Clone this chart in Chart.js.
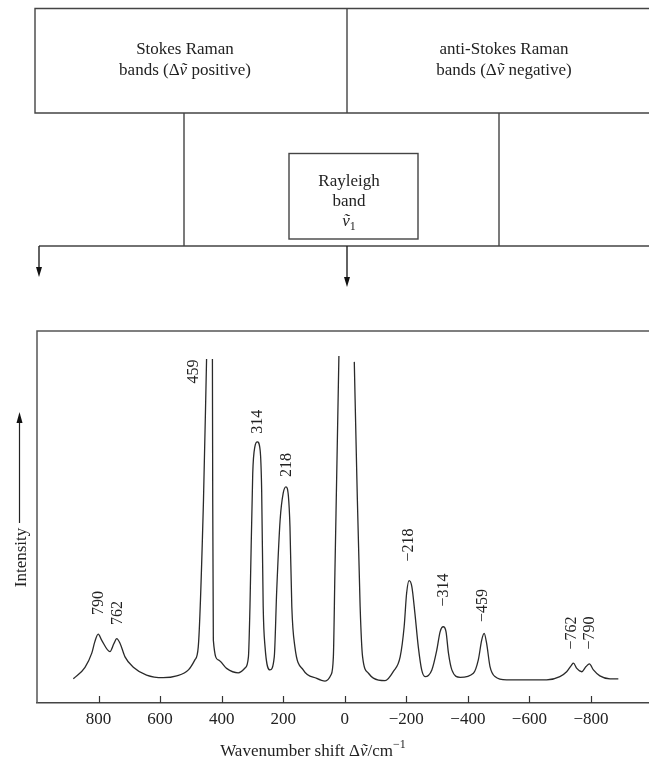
<!DOCTYPE html>
<html><head><meta charset="utf-8">
<script src="https://cdn.jsdelivr.net/npm/chart.js@4/dist/chart.umd.min.js"></script>
<style>html,body{margin:0;padding:0;background:#fff;overflow:hidden;} canvas{display:block;}</style>
</head><body>
<canvas id="c" width="660" height="760"></canvas>
<script>
// Raman shift (cm-1) and relative intensity (null = broken off-scale line)
const shiftValues = [882,844,822,812,801,790,763,750,741,730,714,687,644,590,546,508,487,476,459,449,440,430,429,427,411,384,346,324,313,308,299,292,284,275,270,265,259,243,229,221,210,200,191,183,178,172,162,135,91,64,45,37,32,24,19,-6,-31,-39,-50,-58,-77,-93,-131,-158,-180,-193,-201,-209,-218,-228,-239,-250,-261,-283,-299,-310,-320,-329,-337,-348,-375,-418,-434,-445,-453,-461,-472,-488,-526,-656,-699,-721,-737,-743,-754,-770,-784,-795,-808,-829,-862,-889];
const intensityValues = [6.5,9.6,13.4,16.5,18.5,16.9,13.8,16.0,17.3,16.0,12.4,9.6,7.5,6.8,7.3,8.9,11.6,15.1,54.6,92.5,null,92.5,54.6,16.9,11.6,9.3,8.1,9.4,12.4,25.9,61.7,68.9,70.2,68.0,57.3,25.9,15.1,8.9,12.4,30.4,49.2,56.4,58.1,55.5,47.4,25.9,15.1,8.9,6.6,5.9,7.5,12.4,34.9,70.7,93.3,null,91.7,61.7,25.9,12.4,8.0,6.7,6.0,8.5,12.4,20.5,29.5,32.9,31.3,24.1,15.1,8.9,7.1,8.9,14.2,19.2,20.5,19.2,13.4,8.9,6.9,8.0,11.6,16.9,18.7,16.0,9.8,7.1,6.2,6.2,7.1,8.4,10.2,10.7,9.3,8.4,9.8,10.5,8.9,7.3,6.5,6.5];
const tickValues = [800,600,400,200,0,-200,-400,-600,-800];
const peakLabelText = ['790','762','459','314','218','\u2212218','\u2212314','\u2212459','\u2212762','\u2212790'];
const peakLabelShift = [800,736,490,283,188,-208,-322,-450,-737,-795];
const peakLabelIntensity = [26.9,24.2,89.1,75.6,64.0,42.5,30.4,26.2,18.8,18.8];

const FAM = '"Liberation Serif","Times New Roman",serif';
const INK = '#222';
const points = shiftValues.map((x,i)=>({x:x, y:intensityValues[i]}));
const fmt = v => v < 0 ? '\u2212' + Math.abs(v) : String(v);

function drawRuns(ctx, runs, x, y, align, size){
  const fontFor = st => {
    let s = size, it = '';
    if (st==='sub'||st==='sup') s = Math.round(size*0.68);
    if (st==='i') it = 'italic ';
    return it + s + 'px ' + FAM;
  };
  let total = 0;
  for (const [t,st] of runs){ ctx.font = fontFor(st); total += ctx.measureText(t).width; }
  let cx = align==='center' ? x - total/2 : (align==='right' ? x - total : x);
  ctx.textAlign = 'left'; ctx.textBaseline = 'alphabetic';
  for (const [t,st] of runs){
    ctx.font = fontFor(st);
    const dy = st==='sub' ? size*0.22 : (st==='sup' ? -size*0.5 : 0);
    ctx.fillText(t, cx, y+dy);
    cx += ctx.measureText(t).width;
  }
}
function arrowDown(ctx, x, y1, y2){
  ctx.beginPath(); ctx.moveTo(x,y1); ctx.lineTo(x,y2-6); ctx.stroke();
  ctx.beginPath(); ctx.moveTo(x-3,y2-10); ctx.lineTo(x+3,y2-10); ctx.lineTo(x,y2); ctx.closePath(); ctx.fill();
}

const decor = {
  id:'decor',
  afterDraw(chart){
    const ctx = chart.ctx, ca = chart.chartArea, xs = chart.scales.x, ys = chart.scales.y;
    const W = chart.width;
    ctx.save();
    // plot frame (left + top)
    ctx.strokeStyle = '#555'; ctx.lineWidth = 1.5;
    ctx.beginPath(); ctx.moveTo(ca.left, ca.bottom); ctx.lineTo(ca.left, ca.top); ctx.lineTo(W, ca.top); ctx.stroke();
    // tick marks pointing up into the plot
    ctx.strokeStyle = '#333'; ctx.lineWidth = 1.2;
    xs.ticks.forEach(t => {
      const px = Math.round(xs.getPixelForValue(t.value)) + 0.5;
      ctx.beginPath(); ctx.moveTo(px, ca.bottom); ctx.lineTo(px, ca.bottom - 7); ctx.stroke();
    });
    // peak labels
    ctx.fillStyle = INK; ctx.font = '16px ' + FAM;
    peakLabelText.forEach((t,i) => {
      const px = xs.getPixelForValue(peakLabelShift[i]);
      const py = ys.getPixelForValue(peakLabelIntensity[i]);
      ctx.save(); ctx.translate(px, py); ctx.rotate(-Math.PI/2);
      ctx.textAlign = 'center'; ctx.textBaseline = 'middle';
      ctx.fillText(t, 0, 0); ctx.restore();
    });
    // x-axis title
    drawRuns(ctx, [['Wavenumber shift \u0394','n'],['\u1E7D','i'],['/cm','n'],['\u22121','sup']], 313, 756, 'center', 17);
    // Intensity label with arrow
    ctx.save(); ctx.translate(26, 557.5); ctx.rotate(-Math.PI/2);
    ctx.font = '17px ' + FAM; ctx.textAlign = 'center'; ctx.textBaseline = 'alphabetic';
    ctx.fillText('Intensity', 0, 0); ctx.restore();
    ctx.strokeStyle = '#222'; ctx.lineWidth = 1.2; ctx.fillStyle = '#111';
    ctx.beginPath(); ctx.moveTo(19.5, 523); ctx.lineTo(19.5, 420); ctx.stroke();
    ctx.beginPath(); ctx.moveTo(16.5, 423); ctx.lineTo(22.5, 423); ctx.lineTo(19.5, 412); ctx.closePath(); ctx.fill();

    // ---- top diagram ----
    ctx.strokeStyle = '#444'; ctx.lineWidth = 1.4; ctx.fillStyle = '#111';
    ctx.beginPath();
    ctx.moveTo(W, 8.5); ctx.lineTo(35, 8.5); ctx.lineTo(35, 113); ctx.lineTo(W, 113);
    ctx.moveTo(347, 8.5); ctx.lineTo(347, 113);
    ctx.moveTo(184, 113); ctx.lineTo(184, 246);
    ctx.moveTo(499, 113); ctx.lineTo(499, 246);
    ctx.moveTo(39, 246); ctx.lineTo(W, 246);
    ctx.stroke();
    ctx.strokeRect(289, 153.5, 129, 85.5);
    ctx.strokeStyle = '#222';
    arrowDown(ctx, 39, 246, 277);
    arrowDown(ctx, 347, 246, 287);
    arrowDown(ctx, 652, 246, 277);
    ctx.fillStyle = INK;
    drawRuns(ctx, [['Stokes Raman','n']], 185, 54, 'center', 17);
    drawRuns(ctx, [['bands (\u0394','n'],['\u1E7D','i'],[' positive)','n']], 185, 74.5, 'center', 17);
    drawRuns(ctx, [['anti-Stokes Raman','n']], 504, 54, 'center', 17);
    drawRuns(ctx, [['bands (\u0394','n'],['\u1E7D','i'],[' negative)','n']], 504, 74.5, 'center', 17);
    drawRuns(ctx, [['Rayleigh','n']], 349, 185.5, 'center', 17);
    drawRuns(ctx, [['band','n']], 349, 205.5, 'center', 17);
    drawRuns(ctx, [['\u1E7D','i'],['1','sub']], 349, 226, 'center', 17);
    ctx.restore();
  }
};

new Chart(document.getElementById('c').getContext('2d'), {
  type:'line',
  data:{datasets:[{data:points, borderColor:'#2a2a2a', borderWidth:1.3, pointRadius:0, fill:false,
    cubicInterpolationMode:'monotone', spanGaps:false}]},
  options:{
    responsive:false, animation:false, devicePixelRatio:1,
    layout:{padding:{left:37, top:331, right:7.5, bottom:0}},
    plugins:{legend:{display:false}, tooltip:{enabled:false}, title:{display:false}},
    scales:{
      x:{type:'linear', reverse:true, min:-1000, max:1000,
        afterBuildTicks: s => { s.ticks = tickValues.map(v => ({value:v})); },
        afterFit: s => { s.height = 57; },
        grid:{display:false, drawTicks:false},
        border:{display:true, color:'#444', width:1.6},
        ticks:{padding:6, color:INK, font:{family:FAM, size:17}, maxRotation:0, autoSkip:false,
          callback: v => fmt(v)}
      },
      y:{display:false, min:0, max:100}
    }
  },
  plugins:[decor]
});
</script>
</body></html>
